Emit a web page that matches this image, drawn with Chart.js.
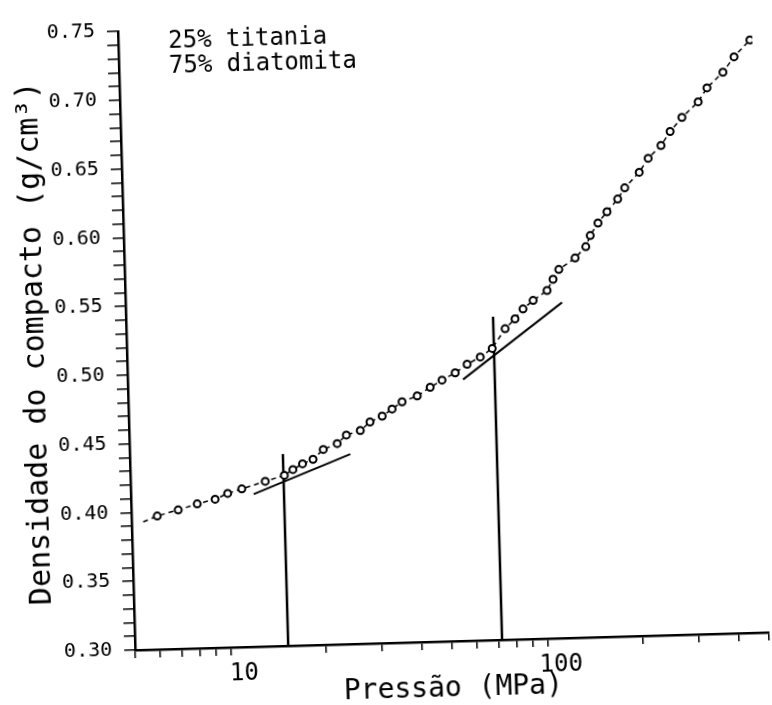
<!DOCTYPE html>
<html>
<head>
<meta charset="utf-8">
<script src="https://cdn.jsdelivr.net/npm/chart.js@4.4.1/dist/chart.umd.min.js"></script>
<style>
  html, body { margin: 0; padding: 0; background: #fff; overflow: hidden; }
  /* the scanned figure sits a bit crooked on the page */
  #chart { display: block; transform: rotate(-1.6deg); transform-origin: 386px 352.5px; }
</style>
</head>
<body>
<canvas id="chart" width="772" height="705"></canvas>
<script>
// measured points (pressure in MPa, density in g/cm3)
const pressure = [5.44, 6.03, 7.03, 8.08, 9.21, 10.1, 11.2, 13.3, 15.3, 16.3, 17.5, 18.9, 20.4, 22.6, 24.2,
  26.8, 28.8, 31.5, 33.9, 36.5, 40.8, 44.9, 49.0, 54.0, 59.0, 65.0, 71.0, 78.3, 84.3, 89.5, 96.5,
  107, 112, 117, 132, 143, 148, 157, 168, 182, 192, 214, 229, 252, 270, 295, 333, 356, 401, 436, 491];
const density = [0.393, 0.397, 0.401, 0.405, 0.408, 0.412, 0.415, 0.420, 0.424, 0.428, 0.432, 0.435, 0.442, 0.446, 0.452,
  0.455, 0.461, 0.465, 0.470, 0.475, 0.479, 0.485, 0.490, 0.495, 0.501, 0.506, 0.512, 0.526, 0.533, 0.540, 0.546,
  0.553, 0.561, 0.568, 0.576, 0.584, 0.592, 0.601, 0.609, 0.618, 0.626, 0.637, 0.647, 0.656, 0.666, 0.676, 0.687, 0.697, 0.708, 0.719, 0.731];

// tangent lines
const tangentLowP = [12.2, 24.8];
const tangentLowD = [0.411, 0.438];
const tangentHighP = [57.1, 119];
const tangentHighD = [0.490, 0.544];

// vertical marks down to the axis
const breakP = [15.2, 71.9];
const breakTop = [0.4395, 0.535];

// axes
const xTickValues = [5, 6, 7, 8, 9, 10, 20, 30, 40, 50, 60, 70, 80, 90, 100, 200, 300, 400, 500];
const xTickLabels = [10, 100];
const noteLines = ["25% titania", "75% diatomita"];

const mono = "'DejaVu Sans Mono', monospace";

function pairs(xs, ys) {
  return xs.map(function (x, i) { return { x: x, y: ys[i] }; });
}

const datasets = [
  {
    data: pairs(pressure, density),
    borderColor: "#000",
    borderWidth: 1.5,
    borderDash: [5, 4],
    backgroundColor: "#fff",
    pointBorderColor: "#000",
    pointBorderWidth: 2,
    pointRadius: function (ctx) { return ctx.dataIndex === 0 ? 0 : 3.5; },
  },
  { data: pairs(tangentLowP, tangentLowD), borderColor: "#000", borderWidth: 2, pointRadius: 0 },
  { data: pairs(tangentHighP, tangentHighD), borderColor: "#000", borderWidth: 2, pointRadius: 0 },
];
breakP.forEach(function (p, i) {
  datasets.push({
    data: [{ x: p, y: 0.30 }, { x: p, y: breakTop[i] }],
    borderColor: "#000",
    borderWidth: 2.5,
    pointRadius: 0,
  });
});

// composition note in the upper left
const notePlugin = {
  id: "note",
  afterDraw(chart) {
    const ctx = chart.ctx;
    const area = chart.chartArea;
    ctx.save();
    ctx.font = "24px " + mono;
    ctx.fillStyle = "#000";
    ctx.textBaseline = "middle";
    noteLines.forEach(function (t, i) {
      ctx.fillText(t, area.left + 50, area.top + 12 + i * 25);
    });
    ctx.restore();
  },
};

new Chart(document.getElementById("chart").getContext("2d"), {
  type: "line",
  data: { datasets: datasets },
  plugins: [notePlugin],
  options: {
    responsive: false,
    animation: false,
    layout: { padding: { top: 18, right: 11, left: 0, bottom: 0 } },
    plugins: { legend: { display: false }, tooltip: { enabled: false } },
    scales: {
      x: {
        type: "logarithmic",
        min: 5,
        max: 500,
        afterBuildTicks: function (scale) {
          scale.ticks = xTickValues.map(function (v) { return { value: v }; });
        },
        afterFit: function (scale) { scale.height = 62; },
        ticks: {
          autoSkip: false,
          maxRotation: 0,
          labelOffset: 13,
          padding: 4,
          color: "#000",
          font: { family: mono, size: 24 },
          callback: function (v) { return xTickLabels.indexOf(v) >= 0 ? String(v) : ""; },
        },
        grid: { drawOnChartArea: false, drawTicks: true, tickLength: 8, color: "#000", lineWidth: 1.5 },
        border: { display: true, color: "#000", width: 2.5 },
        title: {
          display: true,
          text: "Pressão (MPa)",
          color: "#000",
          font: { family: mono, size: 28, lineHeight: 1 },
          padding: { top: 0, bottom: 0 },
        },
      },
      y: {
        type: "linear",
        min: 0.30,
        max: 0.75,
        afterFit: function (scale) { scale.width = 127; },
        ticks: {
          stepSize: 0.01,
          autoSkip: false,
          padding: 12,
          color: "#000",
          font: { family: mono, size: 20 },
          callback: function (v) {
            return Math.abs(v * 20 - Math.round(v * 20)) < 1e-6 ? v.toFixed(2) : "";
          },
        },
        grid: { drawOnChartArea: false, drawTicks: true, tickLength: 11, color: "#000", lineWidth: 1.5 },
        border: { display: true, color: "#000", width: 2.5 },
        title: {
          display: true,
          text: "Densidade do compacto (g/cm³)",
          color: "#000",
          font: { family: mono, size: 30, lineHeight: 1 },
          padding: { top: 21, bottom: 0 },
        },
      },
    },
  },
});
</script>
</body>
</html>
